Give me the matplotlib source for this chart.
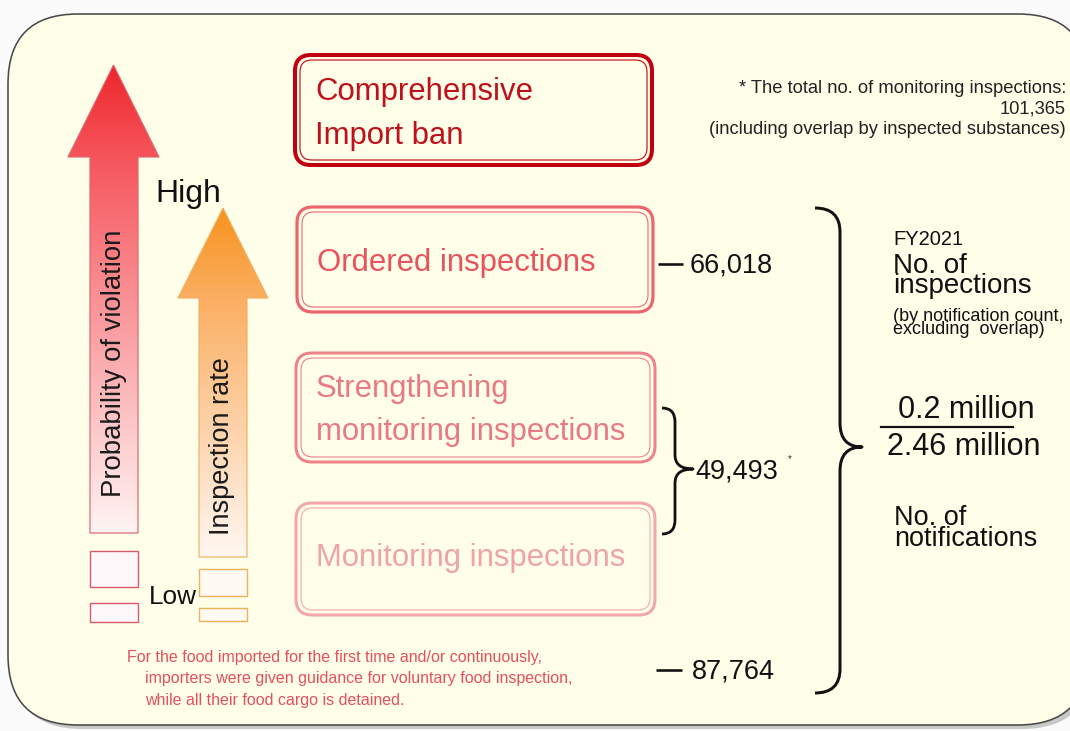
import numpy as np
import matplotlib
matplotlib.use("Agg")
import matplotlib.pyplot as plt
from matplotlib.patches import FancyBboxPatch, Polygon, PathPatch
from matplotlib.path import Path
from matplotlib.colors import to_rgb
from matplotlib import font_manager

# ---------------- data ----------------
measure_labels = ["Comprehensive\nImport ban", "Ordered inspections",
                  "Strengthening\nmonitoring inspections", "Monitoring inspections"]
inspection_counts = ["66,018", "49,493", "87,764"]
axis_labels = ["Probability of violation", "Inspection rate"]
level_labels = ["High", "Low"]
ratio_numerator = "0.2 million"
ratio_denominator = "2.46 million"
fy_label = "FY2021"
inspections_label = "No. of\ninspections"
inspections_sub = "(by notification count,\nexcluding  overlap)"
notifications_label = "No. of\nnotifications"
note_total = ["* The total no. of monitoring inspections:", "101,365",
              "(including overlap by inspected substances)"]
note_guidance = ["For the food imported for the first time and/or continuously,",
                 "importers were given guidance for voluntary food inspection,",
                 "while all their food cargo is detained."]

# ---------------- figure ----------------
W, H = 1070, 731
fig = plt.figure(figsize=(W / 100, H / 100), dpi=100)
fig.patch.set_facecolor("#fbfbfb")
ax = fig.add_axes([0, 0, 1, 1])
ax.set_xlim(0, W)
ax.set_ylim(H, 0)
ax.axis("off")
FONT = "Liberation Sans"
PX = 72 / 100.0  # points per pixel

_names = {f.name for f in font_manager.fontManager.ttflist}
if "Liberation Sans Narrow" in _names:
    NARROW, NOTE_FS, TOP_FS = "Liberation Sans Narrow", 14.0, 15.8
else:
    NARROW, NOTE_FS, TOP_FS = FONT, 11.5, 13.2

CREAM = "#fffee9"
# panel shadow + panel
ax.add_patch(FancyBboxPatch((12, 18), 1080, 711, boxstyle="round,pad=0,rounding_size=70",
                            fc="#c8c8c8", ec="none", zorder=0))
ax.add_patch(FancyBboxPatch((8, 14), 1080, 711, boxstyle="round,pad=0,rounding_size=70",
                            fc=CREAM, ec="#4a4a4a", lw=1.6 * PX, zorder=1))


def grad_arrow(x0, x1, hx0, hx1, apex_y, base_y, bottom_y, top_col, mid_col, bot_col, edge):
    cx = (hx0 + hx1) / 2
    verts = [(cx, apex_y), (hx1, base_y), (x1, base_y), (x1, bottom_y),
             (x0, bottom_y), (x0, base_y), (hx0, base_y)]
    poly = Polygon(verts, closed=True, fc="none", ec=edge, lw=1.2 * PX, zorder=4)
    ax.add_patch(poly)
    n = 300
    ys = np.linspace(apex_y, bottom_y, n)
    t = (ys - apex_y) / (bottom_y - apex_y)
    c0, c1, c2 = map(np.array, (to_rgb(top_col), to_rgb(mid_col), to_rgb(bot_col)))
    tm = (base_y - apex_y) / (bottom_y - apex_y)
    cols = np.zeros((n, 1, 3))
    for i, tt in enumerate(t):
        if tt <= tm:
            f = tt / tm
            cols[i, 0] = c0 * (1 - f) + c1 * f
        else:
            f = (tt - tm) / (1 - tm)
            cols[i, 0] = c1 * (1 - f) + c2 * f
    im = ax.imshow(cols, extent=(hx0, hx1, bottom_y, apex_y), origin="upper",
                   aspect="auto", interpolation="bilinear", zorder=3)
    clip = Polygon(verts, closed=True, transform=ax.transData)
    im.set_clip_path(clip)


grad_arrow(90, 138, 68, 159, 65, 157, 533, "#ee262c", "#f6555c", "#fff4f4", "#dd6672")
grad_arrow(199, 247, 178, 268, 208, 298, 557, "#f7931c", "#fbae62", "#fff7f2", "#efb263")

# small boxes below the arrows
for (y0, y1) in [(551, 587), (603, 622)]:
    ax.add_patch(plt.Rectangle((90, y0), 48, y1 - y0, fc="#fff8fa", ec="#d85a68", lw=1.4 * PX, zorder=4))
for (y0, y1) in [(569, 596), (608, 621)]:
    ax.add_patch(plt.Rectangle((199, y0), 48, y1 - y0, fc="#fffaf2", ec="#eeb25a", lw=1.4 * PX, zorder=4))

ax.text(114, 363, axis_labels[0], rotation=90, ha="center", va="center",
        fontsize=19.8, family=FONT, color="#1a1a1a", zorder=5)
ax.text(222, 446, axis_labels[1], rotation=90, ha="center", va="center",
        fontsize=19.5, family=FONT, color="#1a1a1a", zorder=5)
ax.text(155, 202, level_labels[0], ha="left", va="baseline", fontsize=23,
        family=FONT, color="#111111", zorder=5)
ax.text(149, 604, level_labels[1], ha="left", va="baseline", fontsize=18.8,
        family=FONT, color="#111111", zorder=5)

# measure boxes
boxes = [(295, 55, 652, 165), (297, 207, 653, 312), (296, 353, 655, 462), (296, 503, 655, 615)]
edge_cols = ["#c00010", "#ec6670", "#ef8189", "#f3a6ad"]
text_cols = ["#c0101c", "#e8525c", "#ea7a82", "#f0a2a9"]
outer_lw = [4.0, 3.2, 3.0, 3.0]
baselines = [[100, 144], [271], [397, 440], [566]]
for (x0, y0, x1, y1), ec, tc, lw, bls, lab in zip(boxes, edge_cols, text_cols, outer_lw,
                                                   baselines, measure_labels):
    ax.add_patch(FancyBboxPatch((x0, y0), x1 - x0, y1 - y0,
                                boxstyle="round,pad=0,rounding_size=16",
                                fc=CREAM, ec=ec, lw=lw * PX, zorder=2))
    ax.add_patch(FancyBboxPatch((x0 + 5, y0 + 5), x1 - x0 - 10, y1 - y0 - 10,
                                boxstyle="round,pad=0,rounding_size=12",
                                fc="none", ec=ec, lw=1.1 * PX, zorder=2))
    for line, bl in zip(lab.split("\n"), bls):
        ax.text(x0 + 20, bl, line, ha="left", va="baseline", fontsize=22.4,
                family=FONT, color=tc, zorder=5)

# counts
ax.plot([658, 683], [264, 264], color="#111111", lw=2.6 * PX, solid_capstyle="butt", zorder=5)
ax.text(690, 273, inspection_counts[0], ha="left", va="baseline", fontsize=19.5,
        family=FONT, color="#111111")
ax.plot([656, 682], [670, 670], color="#111111", lw=2.6 * PX, solid_capstyle="butt", zorder=5)
ax.text(692, 678, inspection_counts[2], ha="left", va="baseline", fontsize=19.5,
        family=FONT, color="#111111")
ax.text(695, 478, inspection_counts[1], ha="left", va="baseline", fontsize=19.5,
        family=FONT, color="#111111")
ax.text(790, 462, "*", ha="center", va="baseline", fontsize=7, family=FONT, color="#333333")


def brace(xl, yt, yb, xv, xt, ym, r, lw):
    verts = [(xl, yt), (xv, yt), (xv, yt + r),
             (xv, ym - r),
             (xv, ym), (xt, ym),
             (xv, ym), (xv, ym + r),
             (xv, yb - r),
             (xv, yb), (xl, yb)]
    codes = [Path.MOVETO, Path.CURVE3, Path.CURVE3,
             Path.LINETO,
             Path.CURVE3, Path.CURVE3,
             Path.CURVE3, Path.CURVE3,
             Path.LINETO,
             Path.CURVE3, Path.CURVE3]
    ax.add_patch(PathPatch(Path(verts, codes), fc="none", ec="#111111", lw=lw * PX,
                           capstyle="butt", joinstyle="round", zorder=5))


brace(662, 408, 534, 675, 693, 469, 14, 2.8)
brace(815, 208, 693, 840, 862, 447, 24, 3.0)

# right-hand explanation (multi-line texts are anchored on their last baseline)
ax.text(893, 245, fy_label, ha="left", va="baseline", fontsize=14.5, family=FONT, color="#111111")
ax.text(893, 293, inspections_label, ha="left", va="baseline", fontsize=20, family=FONT,
        color="#111111", linespacing=0.69)
ax.text(893, 334, inspections_sub, ha="left", va="baseline", fontsize=13,
        family=FONT, color="#111111", linespacing=0.7)
ax.text(966, 418, ratio_numerator, ha="center", va="baseline", fontsize=22, family=FONT, color="#111111")
ax.plot([881, 1013], [427, 427], color="#111111", lw=2.2 * PX, zorder=5)
ax.text(964, 455, ratio_denominator, ha="center", va="baseline", fontsize=22, family=FONT, color="#111111")
ax.text(894, 546, notifications_label, ha="left", va="baseline", fontsize=19.5, family=FONT,
        color="#111111", linespacing=0.75)

# top-right note
for line, bl in zip(note_total, [93, 114, 134]):
    ax.text(1066, bl, line, ha="right", va="baseline", fontsize=TOP_FS, family=NARROW, color="#222222")

# bottom red note
for line, bl, x in zip(note_guidance, [662, 683, 705], [127, 145, 145]):
    ax.text(x, bl, line, ha="left", va="baseline", fontsize=NOTE_FS, family=NARROW, color="#e4505e")

fig.savefig("out.png", dpi=100, facecolor=fig.get_facecolor())
